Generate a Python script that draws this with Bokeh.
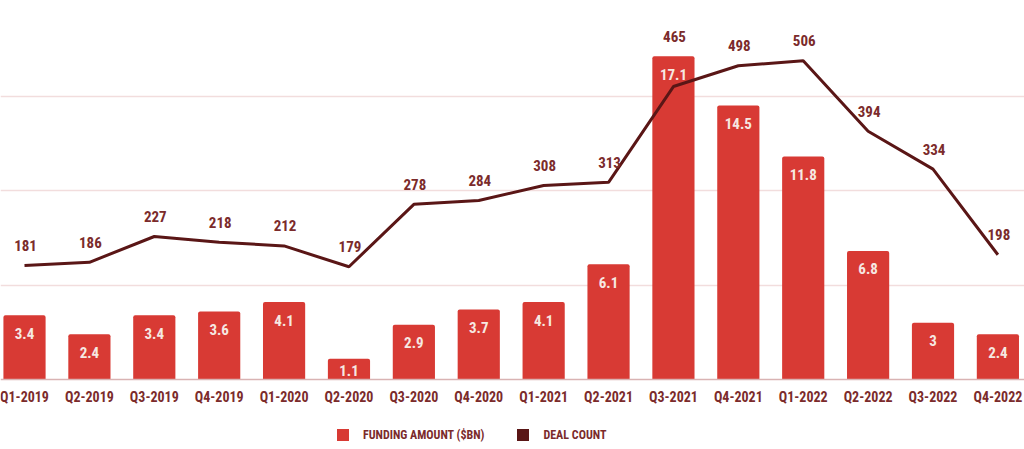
from bokeh.plotting import figure
from bokeh.models import (ColumnDataSource, Range1d, FixedTicker,
                          Legend, LegendItem, Span)
from bokeh.core.properties import value
from bokeh.embed import file_html
from bokeh.resources import INLINE

quarters = ["Q1-2019", "Q2-2019", "Q3-2019", "Q4-2019", "Q1-2020", "Q2-2020",
            "Q3-2020", "Q4-2020", "Q1-2021", "Q2-2021", "Q3-2021", "Q4-2021",
            "Q1-2022", "Q2-2022", "Q3-2022", "Q4-2022"]
funding = [3.4, 2.4, 3.4, 3.6, 4.1, 1.1, 2.9, 3.7, 4.1, 6.1, 17.1, 14.5, 11.8, 6.8, 3, 2.4]
deals = [181, 186, 227, 218, 212, 179, 278, 284, 308, 313, 465, 498, 506, 394, 334, 198]

FONT_NAME = "Roboto Condensed, DejaVu Sans Condensed, sans-serif"
FONT = value(FONT_NAME)
BAR = "#d83a34"
LINE = "#5a1616"
TXT = "#7b2b2b"

LEFT_MAX = 20
RIGHT_MAX = 600
PLOT_H = 449
TOP_PAD = 1
BASE_PX = 379          # pixel row of the zero line
px_per_unit = (BASE_PX - TOP_PAD) / LEFT_MAX
left_min = -(PLOT_H - BASE_PX) / px_per_unit
right_min = left_min * RIGHT_MAX / LEFT_MAX

idx = list(range(len(quarters)))
src = ColumnDataSource(dict(
    x=idx,
    funding=funding,
    deals=deals,
    zero=[0] * len(idx),
    quarter=quarters,
    flabel=[f"{v:g}" for v in funding],
    foff=[min(18, f * px_per_unit / 2 + 1) for f in funding],
    dlabel=[str(v) for v in deals],
    dlabel_y=[max(d, f * RIGHT_MAX / LEFT_MAX) for d, f in zip(deals, funding)],
))

p = figure(width=1024, height=PLOT_H, output_backend="svg", toolbar_location=None,
           x_range=Range1d(-0.37, 15.41), y_range=Range1d(left_min, LEFT_MAX),
           min_border_left=0, min_border_right=0, min_border_top=TOP_PAD,
           min_border_bottom=0, background_fill_color="white",
           border_fill_color="white", outline_line_color=None)
p.extra_y_ranges = {"count": Range1d(right_min, RIGHT_MAX)}
p.xaxis.visible = False
p.yaxis.visible = False
p.xgrid.visible = False
p.ygrid.ticker = FixedTicker(ticks=[5, 10, 15, 20])
p.ygrid.grid_line_color = "#f2dddd"
p.ygrid.grid_line_width = 1.5

bars = p.vbar(x="x", top="funding", width=0.65, source=src, fill_color=BAR,
              line_color=None, border_radius=[2, 2, 0, 0])
p.add_layout(Span(location=0, dimension="width", line_color="#d9b3b3",
                  line_width=1.5))
line = p.line(x="x", y="deals", source=src, line_color=LINE, line_width=3,
              y_range_name="count")

p.text(x="x", y="funding", text="flabel", source=src, text_font=FONT,
       text_font_style="bold", text_font_size="15px", text_color="#f6e8e2",
       text_align="center", text_baseline="middle", y_offset="foff")
p.text(x="x", y="dlabel_y", text="dlabel", source=src, text_font=FONT,
       text_font_style="bold", text_font_size="15px", text_color=TXT,
       text_align="center", text_baseline="middle", x_offset=1, y_offset=-20,
       y_range_name="count")
# category labels under the baseline
p.text(x="x", y="zero", text="quarter", source=src, text_font=FONT,
       text_font_style="bold", text_font_size="14px", text_color=TXT,
       text_align="center", text_baseline="middle", y_offset=17)

# legend swatches
leg_bar = p.vbar(x=[0], top=[0], width=0.65, fill_color=BAR, line_color=None)
leg_deal = p.vbar(x=[0], top=[0], width=0.65, fill_color=LINE, line_color=None)

legend = Legend(items=[LegendItem(label="FUNDING AMOUNT ($BN)", renderers=[leg_bar]),
                       LegendItem(label="DEAL COUNT", renderers=[leg_deal])],
                orientation="horizontal", location=(335, 7))
legend.margin = 0
legend.padding = 0
legend.spacing = 31
legend.glyph_width = 15
legend.glyph_height = 15
legend.label_height = 15
legend.label_standoff = 13
legend.label_text_font = FONT_NAME
legend.label_text_font_style = "bold"
legend.label_text_font_size = "12px"
legend.label_text_color = TXT
legend.border_line_color = None
legend.background_fill_alpha = 0
p.add_layout(legend, "center")

open("out.html", "w").write(file_html(p, INLINE))
